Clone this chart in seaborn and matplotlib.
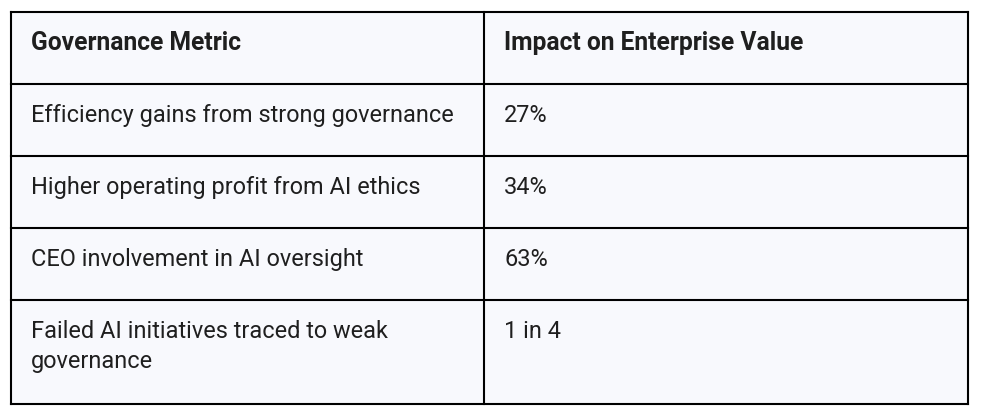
import textwrap
import matplotlib.pyplot as plt
import seaborn as sns

# Table content
headers = ["Governance Metric", "Impact on Enterprise Value"]
metrics = [
    "Efficiency gains from strong governance",
    "Higher operating profit from AI ethics",
    "CEO involvement in AI oversight",
    "Failed AI initiatives traced to weak governance",
]
impacts = ["27%", "34%", "63%", "1 in 4"]

sns.set_theme(style="white")
plt.rcParams["font.family"] = ["Roboto", "DejaVu Sans"]

fig = plt.figure(figsize=(9.84, 4.2), dpi=100)
ax = fig.add_axes([0, 0, 1, 1])
ax.set_xlim(0, 984)
ax.set_ylim(420, 0)
ax.axis("off")

# layout in pixels
left, mid, right = 11, 484, 968
top = 12
row_h = 72
line_h = 30
pad_x = 20
wrap = 40
text_color = "#1f1f1f"
fs = 16.9
fs_head = 17.7

rows = [(headers[0], headers[1], True)] + [(m, v, False) for m, v in zip(metrics, impacts)]
wrapped = [(textwrap.fill(a, wrap), textwrap.fill(b, wrap), bold) for a, b, bold in rows]

y = top
bounds = [y]
for a, b, bold in wrapped:
    n = max(a.count("\n"), b.count("\n")) + 1
    y += row_h + (n - 1) * line_h + (2 if n > 1 else 0)
    bounds.append(y)

# background
ax.fill_between([left, right], bounds[0], bounds[-1], color="#f8f9fd", zorder=0)

for (a, b, bold), y0 in zip(wrapped, bounds[:-1]):
    for txt, x0 in ((a, left), (b, mid)):
        lines = txt.split("\n")
        for i, ln in enumerate(lines):
            ax.text(x0 + pad_x, y0 + 38 + i * line_h, ln,
                    fontsize=fs_head if bold else fs,
                    fontweight="bold" if bold else "normal",
                    color=text_color, va="baseline", ha="left")

lw = 1.5
for yb in bounds:
    ax.plot([left, right], [yb, yb], color="black", lw=lw, solid_capstyle="projecting")
for xb in (left, mid, right):
    ax.plot([xb, xb], [bounds[0], bounds[-1]], color="black", lw=lw, solid_capstyle="projecting")

fig.savefig("out.png", dpi=100, facecolor="white")
